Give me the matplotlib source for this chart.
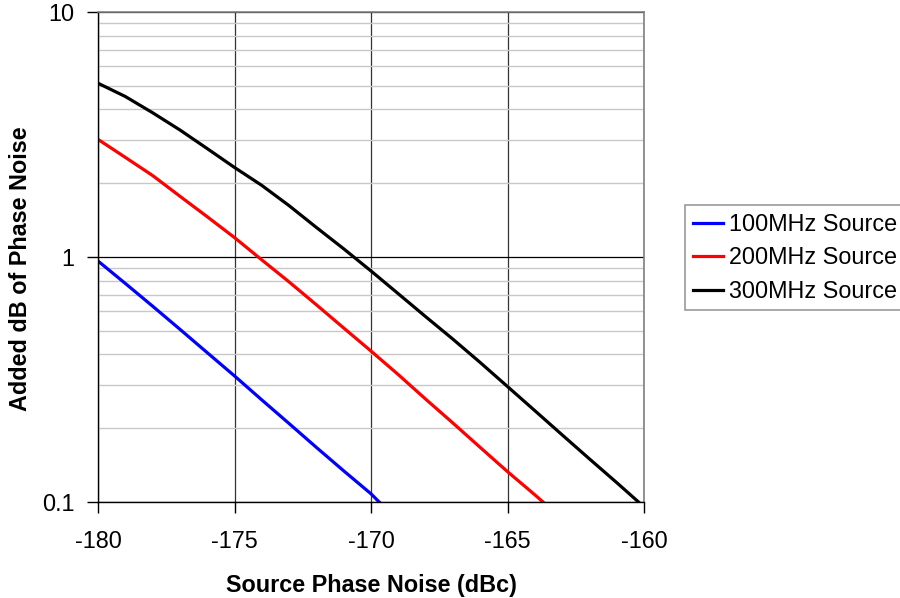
import matplotlib.pyplot as plt
from matplotlib.ticker import FixedLocator, FixedFormatter, LogLocator, NullFormatter

plt.rcParams['font.family'] = ['Liberation Sans', 'DejaVu Sans']

# Source phase noise (dBc)
x_100 = [-180, -179, -178, -177, -176, -175, -174, -173, -172, -171, -170, -169.7]
y_100 = [0.963, 0.780, 0.630, 0.507, 0.407, 0.327, 0.261, 0.209, 0.167, 0.134, 0.108, 0.1]

x_200 = [-180, -179, -178, -177, -176, -175, -174, -173, -172, -171, -170,
         -169, -168, -167, -166, -165, -164, -163.7]
y_200 = [3.02, 2.55, 2.15, 1.77, 1.46, 1.20, 0.973, 0.791, 0.638, 0.513, 0.413,
         0.331, 0.263, 0.210, 0.167, 0.133, 0.107, 0.1]

x_300 = [-180, -179, -178, -177, -176, -175, -174, -173, -172, -171, -170,
         -169, -168, -167, -166, -165, -164, -163, -162, -161, -160.2]
y_300 = [5.12, 4.52, 3.88, 3.30, 2.77, 2.32, 1.96, 1.62, 1.32, 1.08, 0.877,
         0.708, 0.571, 0.462, 0.371, 0.296, 0.236, 0.188, 0.150, 0.120, 0.1]

labels = ['100MHz Source', '200MHz Source', '300MHz Source']
colors = ['#0000ff', '#ff0000', '#000000']
xticks = [-180, -175, -170, -165, -160]

FS = 16.8

fig = plt.figure(figsize=(9, 5.98), dpi=100)
ax = fig.add_axes([98/900, 1 - 502/598, 546/900, 490/598])

ax.set_yscale('log')
ax.set_xlim(-180, -160)
ax.set_ylim(0.1, 10)

# grid
ax.yaxis.set_minor_locator(LogLocator(base=10, subs=range(2, 10)))
ax.yaxis.set_minor_formatter(NullFormatter())
ax.grid(True, which='minor', axis='y', color='#c8c8c8', lw=1)
ax.grid(True, which='major', axis='y', color='#000000', lw=0.9)
ax.grid(True, which='major', axis='x', color='#333333', lw=0.9)
ax.set_axisbelow(True)

for xs, ys, lab, c in zip([x_100, x_200, x_300], [y_100, y_200, y_300], labels, colors):
    ax.plot(xs, ys, color=c, lw=2.3, label=lab, solid_joinstyle='round')

ax.xaxis.set_major_locator(FixedLocator(xticks))
ax.set_xticklabels([str(t) for t in xticks])
ax.yaxis.set_major_locator(FixedLocator([0.1, 1, 10]))
ax.yaxis.set_major_formatter(FixedFormatter(['0.1', '1', '10']))

ax.tick_params(axis='both', which='major', direction='out', length=8, width=1,
               labelsize=FS, color='black')
ax.tick_params(axis='x', pad=12)
ax.tick_params(axis='y', pad=9)
ax.tick_params(axis='y', which='minor', length=0)

for s in ['left', 'bottom']:
    ax.spines[s].set_color('black')
    ax.spines[s].set_linewidth(1)
for s in ['top', 'right']:
    ax.spines[s].set_color('#808080')
    ax.spines[s].set_linewidth(1.2)

ax.set_xlabel('Source Phase Noise (dBc)', fontsize=FS, fontweight='bold', labelpad=15)
ax.set_ylabel('Added dB of Phase Noise', fontsize=FS, fontweight='bold')
ax.yaxis.set_label_coords(-0.121, 0.4755)

leg = fig.legend(loc='upper left', bbox_to_anchor=(685/900, 1 - 205/598),
                 fontsize=FS, frameon=True, fancybox=False, handlelength=1.29,
                 handletextpad=0.26, labelspacing=0.45, borderpad=0.33,
                 borderaxespad=0)
leg.get_frame().set_edgecolor('#808080')
leg.get_frame().set_linewidth(1.2)

fig.savefig('out.png', dpi=100)
